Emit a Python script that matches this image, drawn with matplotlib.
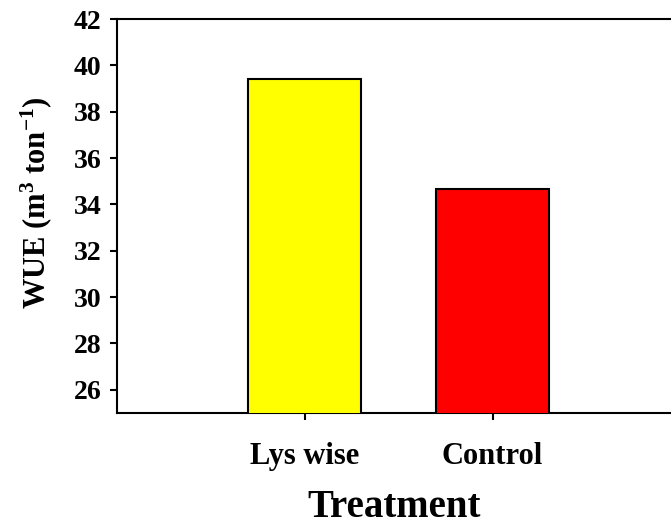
import matplotlib
matplotlib.use("Agg")
import matplotlib.pyplot as plt

# data
treatments = ["Lys wise", "Control"]
wue = [39.4, 34.65]
colors = ["#FFFF00", "#FF0000"]

plt.rcParams["font.family"] = "Liberation Serif"
plt.rcParams["font.weight"] = "bold"
plt.rcParams["mathtext.fontset"] = "custom"
plt.rcParams["mathtext.rm"] = "Liberation Serif:bold"
plt.rcParams["mathtext.it"] = "Liberation Serif:bold"
plt.rcParams["mathtext.bf"] = "Liberation Serif:bold"

fig = plt.figure(figsize=(6.71, 5.29), dpi=100)
ax = fig.add_axes([0.1744, 0.2193, 0.8256, 0.7447])

x = range(len(treatments))
ax.bar(x, wue, width=0.6, color=colors, edgecolor="black", linewidth=1.5, zorder=3)

ax.set_xlim(-1.0, 1.95)
ax.set_ylim(25, 42)
ax.set_yticks(range(26, 43, 2))
ax.set_xticks(list(x))
ax.set_xticklabels(treatments)

for s in ax.spines.values():
    s.set_linewidth(1.5)
ax.spines["right"].set_visible(False)

ax.tick_params(axis="both", direction="out", length=5, width=1.5)
ax.tick_params(axis="y", labelsize=20, pad=6)
ax.tick_params(axis="x", labelsize=22, pad=16)
for lab in ax.get_xticklabels() + ax.get_yticklabels():
    lab.set_fontweight("bold")

ax.set_ylabel(r"WUE (m$^{3}$ ton$^{-1}$)", fontsize=22, fontweight="bold")
ax.yaxis.set_label_coords(-0.114, 0.533)
ax.set_xlabel("Treatment", fontsize=28, fontweight="bold", labelpad=13)

fig.savefig("out.png", dpi=100)
